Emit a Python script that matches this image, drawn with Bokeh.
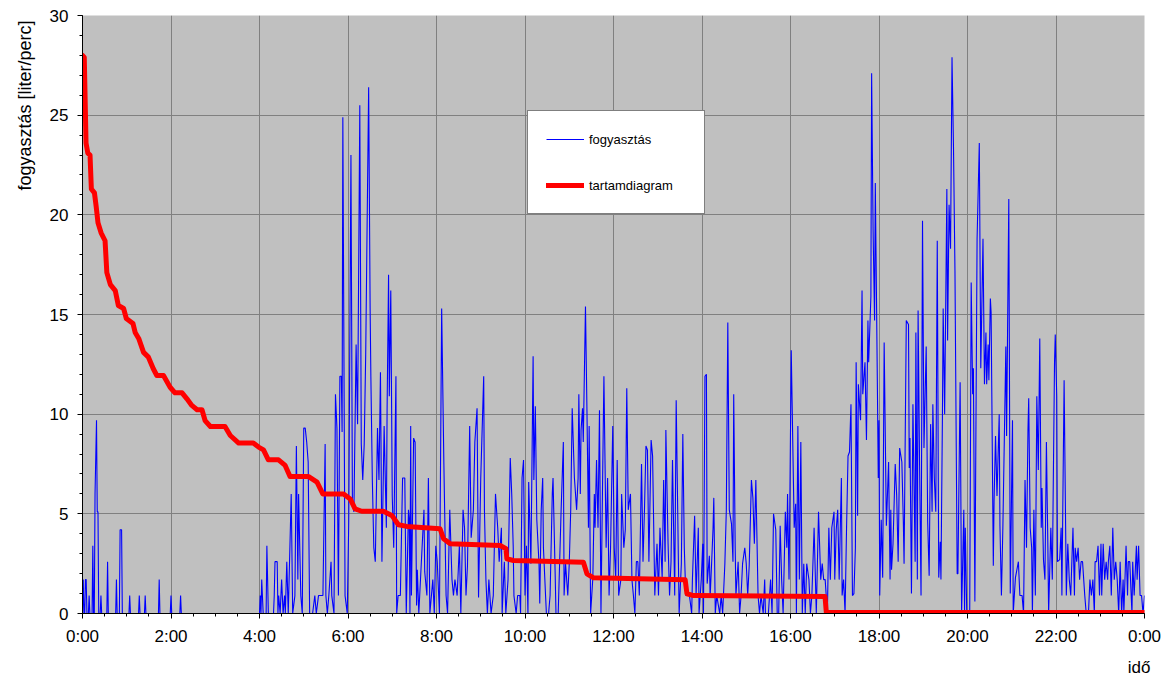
from bokeh.plotting import figure
from bokeh.models import Range1d, FixedTicker, Legend, LegendItem, Title, ColumnDataSource
from bokeh.embed import file_html
from bokeh.resources import INLINE

# ---------------- data ----------------
# consumption samples: (minute of day, litre/minute)
night = [(0,0),(1,1.7),(2,0),(3,0),(4,1.7),(5,1.7),(6,0),(8,0),(9,0.9),(10,0),(13,0),(14,3.4),(15,0),(16,0),
         (17,6.0),(19,9.7),(20,5.1),(21,5.1),(22,0),(24,0),(25,0.9),(26,0),(33,0),(34,2.6),(35,0),(45,0),(46,1.7),
         (47,0),(50,0),(51,4.2),(53,4.2),(54,0),(63,0),(64,0.9),(65,0),(76,0),(77,0.9),(78,0),(84,0),(85,0.9),(86,0),
         (103,0),(104,1.7),(105,0),(119,0),(120,0.9),(121,0),(132,0),(133,0.9),(134,0)]

morning = [(240,0),(241,0.9),(242,0),(243,1.7),(245,0),(249,0),(250,3.4),(252,0),(259,0),(260,0.9),(261,2.6),
           (264,2.6),(265,0),(266,0.9),(268,0),(270,1.7),(272,0),(274,0.9),(275,0),(277,2.6),(279,0),(283,6.0),
           (285,0),(288,0.9),(290,8.4),(292,1.7),(293,6.0),(296,0.9),(298,0),(300,9.3),(302,9.3),(304,8.6),(306,7.6),
           (308,0),(312,0),(315,0.9),(317,0),(320,0.9),(323,0.9),(326,0.9),(329,8.5),(330,0.9),(332,0),(334,0.9),
           (337,2.6),(338,0.9),(341,0),(343,11.0),(345,9.3),(347,0.9),(349,11.9),(351,11.9),(352,9.1),(353,24.9),
           (356,0.9),(359,0),(361,4.6),(364,23.0),(366,5.5),(368,5.1),(371,13.5),(373,9.5),(376,25.5),(378,8.5),
           (380,6.7),(382,8.5),(384,13.0),(388,26.4),(390,15.3),(391,11.9),(393,6.7),(395,3.3),(397,2.6),(400,9.3),
           (402,6.7),(404,12.1),(406,2.6),(409,9.4),(412,4.3),(413,10.2),(415,17.0),(416,10.9),(418,16.2),(420,5.9),
           (422,3.3),(425,11.9),(426,0),(428,0.9),(431,0.9),(434,6.8),(437,6.8),(438,3.4),(439,0),(442,5.2),(443,4.8),
           (444,0),(445,9.4),(446,0.9),(449,8.8),(451,8.6),(453,0.4),(454,2.2),(456,0),(463,5.2),(464,2.1),(467,0.9),
           (469,6.8),(471,0),(475,1.7),(477,0),(479,3.4),(481,2.6),(484,0),(487,15.3),(490,7.5),(493,0.9),(495,0),
           (498,5.2),(501,1.7),(503,0.9),(505,1.7),(508,0.9),(511,3.4),(513,0),(516,5.2),(518,4.3),(520,0.9),
           (522,2.4),(525,9.4),(527,3.8),(530,5.2),(532,8.6),(535,10.3),(537,0.8)]

midday = [(540,6.8),(544,11.9),(545,5.2),(547,1.7),(549,0),(551,1.7),(554,0),(557,0.9),(560,6.0),(563,4.3),
          (565,2.6),(568,4.3),(569,0),(572,2.6),(574,0),(577,1.7),(580,7.8),(582,6.0),(584,3.4),(585,0.9),(588,0),
          (590,0.9),(593,0.9),(594,0),(596,6.8),(598,7.7),(600,0.9),(602,3.4),(604,0),(605,6.6),(608,2.5),(611,12.9),
          (612,6.7),(614,10.4),(616,4.7),(619,2.5),(620,0.5),(622,5.2),(624,6.8),(625,3.3),(628,0.8),(629,0),(632,0),
          (634,0.9),(637,6.0),(638,6.8),(641,1.8),(642,0),(645,0),(649,5.2),(652,8.6),(653,0.9),(655,2.5),(658,0.9),
          (660,2.5),(662,5.2),(664,10.3),(667,6.8),(670,5.2),(672,6.8),(673,11.0),(675,6.0),(676,9.2),(678,10.3),
          (679,8.6),(682,15.4),(684,10.2),(686,4.3),(687,9.4),(689,0),(692,1.8),(694,6.0),(695,4.3),(697,7.7),
          (699,4.3),(701,10.2),(703,0),(705,6.0),(707,11.9),(710,3.3),(712,6.8),(714,0.9),(716,3.3),(719,9.4),
          (721,3.3),(723,1.7),(725,7.7),(727,0.9),(730,1.7),(731,6.0),(734,3.3),(736,4.2),(738,11.3),(740,5.2),
          (743,6.0),(745,1.7),(747,0.9),(749,0),(751,2.6),(753,2.6),(755,0.9),(758,7.5),(760,2.6),(762,5.2),
          (764,8.4),(766,8.2),(768,2.6),(771,8.7),(773,7.9),(776,0.9),(779,3.5),(781,0.9),(783,4.3),(786,1.8),
          (788,6.7),(790,2.6),(791,9.2),(794,3.5),(796,0.9),(798,2.6),(800,7.7),(803,0.9),(805,10.7),(808,2.6),
          (809,0),(812,2.5),(814,9.0),(816,3.3),(818,0.9),(821,0.9),(823,0.9),(826,0),(827,1.7),(830,4.9),(832,0.9),
          (835,4.3),(836,0),(839,1.7),(841,3.5),(842,0),(844,11.9),(846,12.0),(847,1.5),(850,2.9),(851,0.8),
          (853,2.5),(855,4.3),(856,5.8),(858,0),(860,0.9),(864,0),(866,0.9),(868,0),(871,2.5),(873,5.2),(875,14.6),
          (877,5.2),(880,4.5),(882,2.6),(883,11.0),(885,3.3),(886,0.9),(889,2.6),(891,0),(893,0.9),(895,2.5),
          (898,3.3),(900,2.5),(902,0.9),(904,2.4),(907,6.7),(909,5.8),(911,3.5),(913,6.7),(916,0.9),(918,0),
          (920,0.9),(923,0),(925,1.7)]

afternoon = [(926,0),(930,0),(933,1.7),(935,0),(937,5.0),(940,4.2),(942,0),(944,0),(946,4.4),(948,1.7),(950,0),
             (951,1.7),(953,5.1),(955,3.3),(956,6.0),(958,1.7),(959,5.1),(961,13.2),(965,4.3),(967,5.5),(968,0),
             (970,9.4),(972,1.7),(974,8.6),(976,0),(978,2.5),(980,0),(982,2.5),(985,1.7),(987,0),(989,0.9),(992,4.3),
             (995,0),(996,1.7),(998,5.1),(1001,1.7),(1003,2.5),(1005,1.7),(1007,1.7),(1010,0),(1012,4.3),(1014,1.7),
             (1016,4.3),(1019,5.1),(1020,1.7),(1022,4.2),(1024,5.2),(1026,1.7),(1029,6.8),(1030,0.9),(1032,1.7),
             (1034,0),(1036,4.3),(1038,7.9),(1040,8.1),(1042,10.5),(1044,0.9),(1046,1.0),(1048,3.3),(1049,12.6),
             (1051,4.9),(1052,11.5),(1055,9.7),(1057,16.2),(1058,11.0),(1061,12.6),(1063,8.7),(1065,14.7),(1066,12.6),
             (1069,15.9),(1070,27.1),(1072,19.2),(1074,14.7),(1075,21.6),(1078,10.7),(1079,6.8),(1080,9.7),(1081,0.9),
             (1083,4.7),(1085,1.8),(1087,13.6),(1090,4.4),(1093,7.6),(1095,1.7),(1096,5.2)]

evening = [(1097,2.2),(1099,3.5),(1102,7.5),(1104,5.9),(1106,2.6),(1108,8.3),(1111,7.6),(1113,4.6),(1114,2.5),
           (1117,14.7),(1120,14.5),(1121,7.3),(1122,8.8),(1124,1.0),(1126,10.5),(1129,2.6),(1130,14.1),(1132,1.7),
           (1133,15.2),(1135,7.5),(1137,0.9),(1139,19.7),(1141,8.3),(1142,10.1),(1144,13.4),(1146,4.6),(1148,1.9),
           (1150,9.5),(1152,5.1),(1153,10.5),(1155,6.8),(1157,5.1),(1159,18.7),(1161,1.8),(1163,3.6),(1164,1.7),
           (1166,9.9),(1167,15.3),(1169,10.0),(1172,21.3),(1173,13.7),(1175,20.5),(1177,18.3),(1179,27.9),
           (1181,23.4),(1183,17.2),(1186,2.0),(1187,2.0),(1190,11.6),(1192,0),(1195,5.2),(1196,0),(1197,4.3),
           (1199,0),(1203,0),(1205,16.6),(1207,11.0),(1208,12.3),(1210,0.6),(1213,18.8),(1216,23.6),(1218,12.3),
           (1221,18.8),(1223,11.5),(1225,14.1),(1226,11.5),(1228,13.5),(1229,11.7),(1231,15.8),(1232,15.1),
           (1235,2.4),(1236,5.6),(1238,8.9),(1240,5.9),(1243,10.0),(1244,4.4),(1246,0.9),(1248,4.4),(1252,13.4),
           (1253,8.9),(1256,20.8),(1258,1.0),(1261,9.7),(1262,0)]

late = [(1265,1.8),(1269,2.6),(1271,0.9),(1274,0.9),(1276,0),(1278,6.7),(1280,3.3),(1282,9.2),(1283,10.8),
        (1285,4.3),(1287,3.3),(1288,0),(1290,5.2),(1292,0.9),(1294,10.9),(1296,7.2),(1298,13.8),(1300,4.3),
        (1301,6.3),(1303,2.7),(1305,1.7),(1307,8.6),(1309,3.3),(1310,0),(1313,4.3),(1315,1.7),(1318,12.6),
        (1319,14.0),(1321,10.9),(1322,2.6),(1325,2.7),(1327,4.3),(1328,0.9),(1331,11.7),(1333,4.5),(1334,0.9),
        (1336,3.5),(1338,1.7),(1340,0.9),(1343,4.3),(1345,0.9),(1346,3.3),(1348,2.6),(1350,3.3),(1352,1.7),
        (1354,2.6),(1356,2.6),(1359,0.9),(1361,0),(1364,0),(1366,1.7),(1368,0.9),(1370,1.7),(1372,0),(1373,2.6),
        (1375,2.6),(1377,3.4),(1379,0.9),(1381,3.5),(1382,0.9),(1384,3.5),(1386,1.7),(1388,2.6),(1390,1.7),
        (1391,2.6),(1393,3.4),(1395,0.9),(1397,4.3),(1399,1.7),(1401,2.6),(1403,1.7),(1405,0),(1407,2.6),(1409,0),
        (1411,1.7),(1412,0),(1415,3.4),(1417,0.9),(1418,2.6),(1420,2.6),(1423,0),(1424,2.6),(1426,0.9),(1429,3.4),
        (1430,1.7),(1432,3.4),(1434,0.9),(1436,0.9),(1438,0),(1440,0.9)]

# duration curve ("tartamdiagram"): (hours, litre/minute)
duration_curve = [(0,28.0),(0.04,27.9),(0.08,23.6),(0.12,23.1),(0.17,23.0),(0.2,21.3),(0.27,21.1),(0.31,20.4),
                  (0.35,19.6),(0.42,19.1),(0.51,18.7),(0.55,17.1),(0.63,16.5),(0.74,16.2),(0.81,15.45),(0.93,15.3),
                  (0.99,14.8),(1.14,14.55),(1.19,14.1),(1.27,13.8),(1.38,13.1),(1.49,12.86),(1.6,12.28),(1.68,11.94),
                  (1.83,11.94),(1.98,11.35),(2.09,11.07),(2.25,11.07),(2.36,10.77),(2.47,10.44),(2.59,10.22),
                  (2.7,10.22),(2.77,9.68),(2.89,9.38),(3.22,9.38),(3.34,8.93),(3.53,8.55),(3.86,8.55),(3.98,8.35),
                  (4.09,8.21),(4.2,7.71),(4.43,7.71),(4.58,7.43),(4.69,6.87),(5.11,6.87),(5.3,6.59),(5.43,6.0),
                  (5.9,6.0),(6.05,5.75),(6.16,5.25),(6.31,5.13),(6.8,5.13),(6.99,4.92),(7.14,4.45),(7.33,4.37),
                  (8.08,4.25),(8.16,3.75),(8.31,3.5),(9.44,3.41),(9.57,3.25),(9.59,2.74),(9.74,2.66),(11.32,2.57),
                  (11.4,1.99),(11.55,1.79),(13.62,1.69),(13.66,0.99),(13.81,0.9),(16.78,0.85),(16.81,0.05),(24,0.05)]

x_tick_hours = [0, 2, 4, 6, 8, 10, 12, 14, 16, 18, 20, 22, 24]
x_tick_labels = ["0:00", "2:00", "4:00", "6:00", "8:00", "10:00", "12:00", "14:00", "16:00", "18:00", "20:00", "22:00", "0:00"]
x_minor_hours = [0.5 * i for i in range(49)]
y_ticks = [0, 5, 10, 15, 20, 25, 30]
y_minor = list(range(31))

series_name = "fogyasztás"
duration_name = "tartamdiagram"
y_label = "fogyasztás [liter/perc]"
x_label = "idő"

# ---------------- figure ----------------
FONT = "Liberation Sans"
samples = night + morning + midday + afternoon + evening + late
src_flow = ColumnDataSource(dict(h=[m / 60.0 for m, _ in samples], v=[v for _, v in samples]))
src_dur = ColumnDataSource(dict(h=[h for h, _ in duration_curve], v=[v for _, v in duration_curve]))

p = figure(frame_width=1062, frame_height=598, output_backend="svg", toolbar_location=None, title=None,
           x_range=Range1d(0, 24), y_range=Range1d(0, 30),
           min_border_left=82, min_border_right=19, min_border_top=15, min_border_bottom=20,
           background_fill_color="#C0C0C0", border_fill_color="white", outline_line_color=None)

r_flow = p.line("h", "v", source=src_flow, line_color="#0000FF", line_width=1.1)
r_dur = p.line("h", "v", source=src_dur, line_color="#FF0000", line_width=5, line_join="round", line_cap="round")

p.xaxis.ticker = FixedTicker(ticks=x_tick_hours, minor_ticks=x_minor_hours)
p.xaxis.major_label_overrides = {h: lbl for h, lbl in zip(x_tick_hours, x_tick_labels)}
p.yaxis.ticker = FixedTicker(ticks=y_ticks, minor_ticks=y_minor)
p.xgrid.ticker = FixedTicker(ticks=x_tick_hours)
p.ygrid.ticker = FixedTicker(ticks=y_ticks)
for g in (p.xgrid, p.ygrid):
    g.grid_line_color = "#808080"
    g.grid_line_width = 1

for ax in (p.xaxis, p.yaxis):
    ax.axis_line_color = "black"
    ax.axis_line_width = 1
    ax.major_tick_line_color = "black"
    ax.minor_tick_line_color = "black"
    ax.major_tick_in = 0
    ax.major_tick_out = 5
    ax.minor_tick_in = 0
    ax.minor_tick_out = 3
    ax.major_label_text_font = FONT
    ax.major_label_text_font_size = "17px"
    ax.major_label_text_color = "black"
p.yaxis.major_label_standoff = 9
p.xaxis.major_label_standoff = 8

ylab = Title(text=y_label, align="right", text_font=FONT, text_font_size="18px",
             text_font_style="normal", text_color="black", standoff=23, offset=5)
p.add_layout(ylab, "left")
xlab = Title(text=x_label, align="right", text_font=FONT, text_font_size="17px",
             text_font_style="normal", text_color="black", standoff=15, offset=-6)
p.add_layout(xlab, "below")

legend = Legend(items=[LegendItem(label=series_name, renderers=[r_flow]),
                       LegendItem(label=duration_name, renderers=[r_dur])],
                location=(445, 399), orientation="vertical",
                background_fill_color="white", background_fill_alpha=1.0,
                border_line_color="black", border_line_width=1,
                label_text_font=FONT, label_text_font_size="13px", label_text_color="black",
                glyph_width=38, glyph_height=20, label_height=20, label_width=97, padding=18, spacing=26,
                label_standoff=5, margin=0)
p.add_layout(legend)

open("out.html", "w").write(file_html(p, INLINE))
